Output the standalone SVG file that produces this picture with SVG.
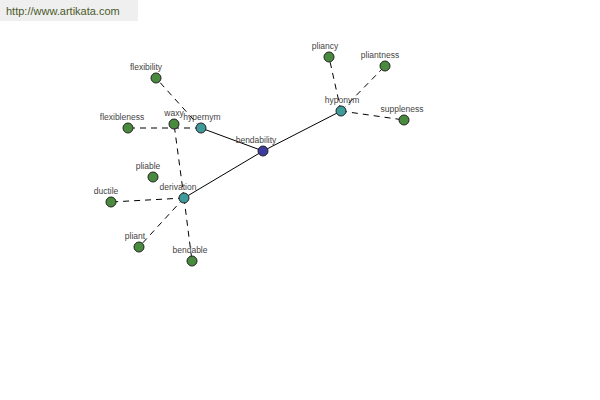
<svg xmlns="http://www.w3.org/2000/svg" width="600" height="400" viewBox="0 0 600 400">
<style>
.n{stroke:#222;stroke-width:1}
.c{fill:#3f9a9a}
.r{fill:#3c3ca0}
.g{fill:#4a8a3e}
.e{stroke:#000;stroke-width:1;fill:none}
.d{stroke-dasharray:6,5}
text{font-family:"Liberation Sans",Arial,sans-serif;font-size:8.5px;fill:#444;text-anchor:middle}
.h{font-size:11px;fill:#4a5a2a;text-anchor:start}
</style>
<rect x="0" y="0" width="138" height="21" fill="#efefef"/>
<text class="h" x="6" y="15">http://www.artikata.com</text>
<g id="connectors">
<line class="e" x1="263" y1="151" x2="201" y2="128"/>
<line class="e" x1="263" y1="151" x2="341" y2="111"/>
<line class="e" x1="263" y1="151" x2="184" y2="198"/>
<line class="e d" x1="201" y1="128" x2="156" y2="78"/>
<line class="e d" x1="201" y1="128" x2="128" y2="128"/>
<line class="e d" x1="184" y1="198" x2="174" y2="124"/>
<line class="e d" x1="184" y1="198" x2="111" y2="202"/>
<line class="e d" x1="184" y1="198" x2="139" y2="247"/>
<line class="e d" x1="184" y1="198" x2="192" y2="261"/>
<line class="e d" x1="341" y1="111" x2="329" y2="57"/>
<line class="e d" x1="341" y1="111" x2="385" y2="66"/>
<line class="e d" x1="341" y1="111" x2="404" y2="120"/>
</g>
<g id="bendability"><circle class="n r" cx="263" cy="151" r="5"/><text x="256" y="143">bendability</text></g>
<g id="hypernym"><circle class="n c" cx="201" cy="128" r="5"/><text x="202" y="120">hypernym</text></g>
<g id="hyponym"><circle class="n c" cx="341" cy="111" r="5"/><text x="342" y="103">hyponym</text></g>
<g id="derivation"><circle class="n c" cx="184" cy="198" r="5"/><text x="178" y="190">derivation</text></g>
<g id="flexibility"><circle class="n g" cx="156" cy="78" r="5"/><text x="146" y="70">flexibility</text></g>
<g id="flexibleness"><circle class="n g" cx="128" cy="128" r="5"/><text x="122" y="120">flexibleness</text></g>
<g id="waxy"><circle class="n g" cx="174" cy="124" r="5"/><text x="174" y="116">waxy</text></g>
<g id="pliable"><circle class="n g" cx="153" cy="177" r="5"/><text x="148" y="169">pliable</text></g>
<g id="ductile"><circle class="n g" cx="111" cy="202" r="5"/><text x="106" y="194">ductile</text></g>
<g id="pliant"><circle class="n g" cx="139" cy="247" r="5"/><text x="135" y="239">pliant</text></g>
<g id="bendable"><circle class="n g" cx="192" cy="261" r="5"/><text x="190" y="253">bendable</text></g>
<g id="pliancy"><circle class="n g" cx="329" cy="57" r="5"/><text x="325" y="49">pliancy</text></g>
<g id="pliantness"><circle class="n g" cx="385" cy="66" r="5"/><text x="380" y="58">pliantness</text></g>
<g id="suppleness"><circle class="n g" cx="404" cy="120" r="5"/><text x="402" y="112">suppleness</text></g>
</svg>
